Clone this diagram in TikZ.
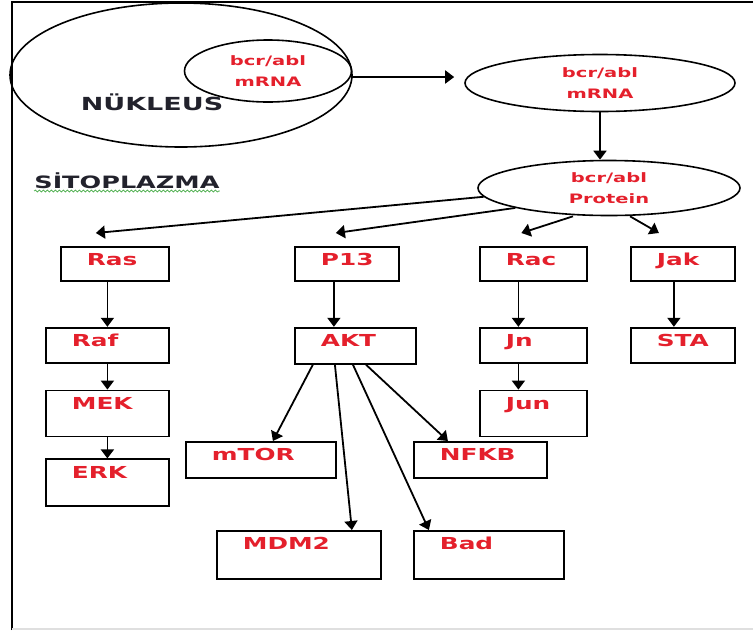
\documentclass[tikz,border=0pt]{standalone}
\usepackage{fontspec}
\usetikzlibrary{shapes,positioning,arrows.meta,calc,decorations.pathmorphing}
\newfontfamily\boxfont{DejaVu Sans}
\definecolor{lblred}{RGB}{228,32,44}
\definecolor{darktxt}{RGB}{34,34,44}
\definecolor{spellgreen}{RGB}{70,170,70}
\newcommand{\wtxt}[1]{\scalebox{1.5}[1]{#1}}

\tikzset{
  cell/.style 2 args={draw, line width=1.8pt, inner sep=0pt, anchor=north west, text width=#1, text height=19pt, text depth=#2, align=left, text=lblred, font=\boxfont\bfseries\fontsize{16.5}{18}\selectfont, execute at begin node={\hspace*{26pt}}},
  oval/.style={ellipse, draw, line width=1.6pt, inner sep=0pt, align=center, text=lblred, font=\boxfont\bfseries\fontsize{13}{21}\selectfont},
  title/.style={anchor=base, inner sep=0pt, text=darktxt, font=\boxfont\bfseries},
  arr/.style={-{Triangle[width=13pt,length=9pt]}, line width=1.8pt},
}

\begin{document}
\begin{tikzpicture}[x=1pt, y=-1pt]
	\useasboundingbox (0,0) rectangle (753,630);
	\draw[line width=2.2pt] (12,630) -- (12,2) -- (753,2);
	\draw[gray!25, line width=1.5pt] (12,629) -- (753,629);
	
	% nucleus and mRNA
	\node[oval, minimum width=342pt, minimum height=144pt] (nucleus) at (181,75) {};
	\node[oval, minimum width=167pt, minimum height=62pt] (mrna1) at (268,71) {\wtxt{bcr/abl}\\\wtxt{mRNA}};
	\node[title, font=\boxfont\bfseries\fontsize{18}{18}\selectfont] (nuk) at (152,110) {\wtxt{NÜKLEUS}};
	\node[title, font=\boxfont\bfseries\fontsize{17}{18}\selectfont] (sito) at (127,188) {\wtxt{SİTOPLAZMA}};
	\draw[spellgreen, line width=0.7pt, decorate, decoration={snake, amplitude=1pt, segment length=4pt}] ([yshift=-3pt]sito.base west) -- ([yshift=-3pt]sito.base east);
	
	\node[oval, minimum width=270pt, minimum height=57pt] (mrna2) at (600,83) {\wtxt{bcr/abl}\\\wtxt{mRNA}};
	\node[oval, minimum width=262pt, minimum height=55pt] (prot) at (609,188) {\wtxt{bcr/abl}\\\wtxt{Protein}};
	
	% pathways
	\node[cell={108pt}{15pt}] (ras) at (60,246) {\wtxt{Ras}};
	\node[cell={123pt}{16pt}, below left=45pt and 0pt of ras.south east] (raf) {\wtxt{Raf}};
	\node[cell={123pt}{27pt}, below=26pt of raf] (mek) {\wtxt{MEK}};
	\node[cell={123pt}{28pt}, below=21pt of mek] (erk) {\wtxt{ERK}};
	
	\node[cell={104pt}{15pt}] (p13) at (294,246) {\wtxt{P13}};
	\node[cell={121pt}{17pt}, below right=45pt and 0pt of p13.south west] (akt) {\wtxt{AKT}};
	\node[cell={150pt}{17pt}] (mtor) at (185,441) {\wtxt{mTOR}};
	\node[cell={133pt}{17pt}] (nfkb) at (413,441) {\wtxt{NFKB}};
	\node[cell={164pt}{29pt}] (mdm2) at (216,530) {\wtxt{MDM2}};
	\node[cell={150pt}{29pt}] (bad) at (413,530) {\wtxt{Bad}};
	
	\node[cell={107pt}{15pt}] (rac) at (479,246) {\wtxt{Rac}};
	\node[cell={107pt}{16pt}, below=45pt of rac] (jn) {\wtxt{Jn}};
	\node[cell={107pt}{27pt}, below=26pt of jn] (jun) {\wtxt{Jun}};
	
	\node[cell={104pt}{15pt}] (jak) at (630,246) {\wtxt{Jak}};
	\node[cell={104pt}{16pt}, below=45pt of jak] (sta) {\wtxt{STA}};
	
	% arrows
	\draw[arr] ([yshift=-6pt]mrna1.east) -- ([shift={(-10,-6)}]mrna2.west);
	\draw[arr] (mrna2.south) -- (mrna2.south |- prot.north);
	
	\draw[arr] (prot.184) -- ([shift={(-19,-13)}]ras.north);
	\draw[arr] (prot.192) -- ([shift={(-11,-13)}]p13.north);
	\draw[arr] ([xshift=-36pt]prot.south) -- ([shift={(-12,-13)}]rac.north);
	\draw[arr] ([xshift=21pt]prot.south) -- ([shift={(-24,-13)}]jak.north);
	
	\draw[arr] (raf.north |- ras.south) -- (raf.north);
	\draw[arr] (raf.south) -- (mek.north);
	\draw[arr] (mek.south) -- (erk.north);
	
	\draw[arr] ([xshift=-13pt]p13.south) -- ([xshift=-13pt]p13.south |- akt.north);
	\draw[arr] ([xshift=-42.5pt]akt.south) -- ([xshift=12pt]mtor.north);
	\draw[arr] ([xshift=-20.5pt]akt.south) -- ([xshift=53pt]mdm2.north);
	\draw[arr] ([xshift=-2.5pt]akt.south) -- ([xshift=-60pt]bad.north);
	\draw[arr] ([xshift=10.5pt]akt.south) -- ([xshift=-32.5pt]nfkb.north);
	
	\draw[arr] ([xshift=-15pt]rac.south) -- ([xshift=-15pt]jn.north);
	\draw[arr] ([xshift=-15pt]jn.south) -- ([xshift=-15pt]jun.north);
	\draw[arr] ([xshift=-9pt]jak.south) -- ([xshift=-9pt]sta.north);
\end{tikzpicture}
\end{document}
